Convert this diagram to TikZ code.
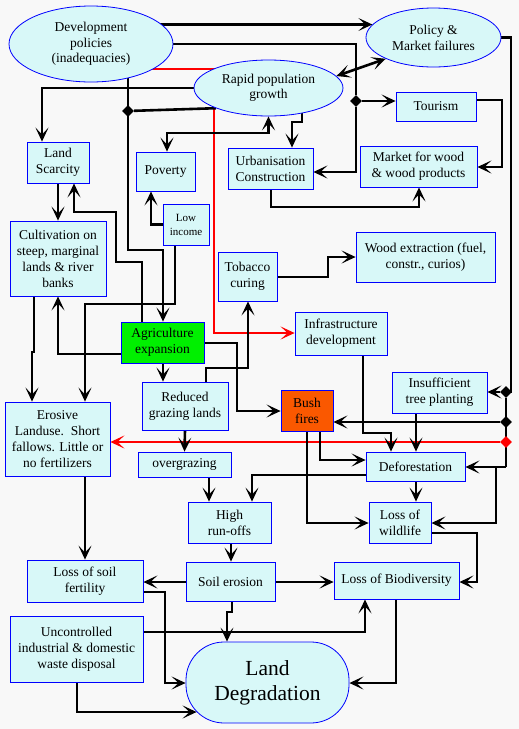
\documentclass[tikz,border=0pt]{standalone}
\usepackage{fontspec}
\setmainfont{Liberation Serif}
\usetikzlibrary{shapes.geometric,arrows.meta,calc}
\pgfdeclarelayer{bg}
\pgfdeclarelayer{lines}
\pgfsetlayers{bg,lines,main}
\definecolor{boxfill}{RGB}{216,248,248}
\definecolor{pagebg}{RGB}{248,248,248}
\definecolor{bord}{RGB}{0,0,255}
\definecolor{agrifill}{RGB}{0,240,0}
\definecolor{firefill}{RGB}{250,88,0}
\definecolor{redline}{RGB}{255,0,0}
\begin{document}
\begin{tikzpicture}[x=1pt,y=-1pt,
  box/.style={draw=bord,fill=boxfill,line width=0.8pt,inner sep=0pt,align=center,font=\fontsize{13.5}{16}\selectfont},
  oval/.style={box,ellipse},
  ln/.style={line width=2.6pt},
  arr/.style={ln,-{Stealth[length=14pt,width=13pt,inset=7pt]}},
  both/.style={ln,{Stealth[length=14pt,width=13pt,inset=7pt]}-{Stealth[length=14pt,width=13pt,inset=7pt]}},
  redarr/.style={arr,draw=redline},
  jdot/.style={diamond,aspect=1,fill=black,minimum size=12pt,inner sep=0pt},
  jreddot/.style={jdot,fill=redline}]
\begin{pgfonlayer}{bg}
\fill[pagebg] (0,0) rectangle (519,729);
\end{pgfonlayer}
\useasboundingbox (0,0) rectangle (519,729);

% nodes
\node[oval,minimum width=164pt,minimum height=76pt,font=\fontsize{13.5}{15.5}\selectfont] (dev) at (91,44) {Development\\policies\\(inadequacies)};
\node[oval,minimum width=135pt,minimum height=59pt] (policy) at (433.5,37.5) {Policy \&\\Market failures};
\node[oval,minimum width=149pt,minimum height=56pt,font=\fontsize{13.5}{15}\selectfont] (rapid) at (268.5,88) {Rapid population\\growth};
\node[box,minimum width=80pt,minimum height=29pt] (tourism) at (436,106.5) {Tourism};
\node[box,minimum width=117pt,minimum height=41pt] (market) at (418.5,166.5) {Market for wood\\\& wood products};
\node[box,minimum width=62pt,minimum height=41pt] (landsc) at (58,162.5) {Land\\Scarcity};
\node[box,minimum width=59pt,minimum height=39pt] (poverty) at (165.5,171.5) {Poverty};
\node[box,minimum width=85pt,minimum height=41pt] (urban) at (270.5,168.5) {Urbanisation\\Construction};
\node[box,minimum width=46pt,minimum height=41pt,font=\fontsize{11}{14}\selectfont] (lowinc) at (186,224.5) {Low\\income};
\node[box,minimum width=96pt,minimum height=75pt] (cult) at (58,258.5) {Cultivation on\\steep, marginal\\lands \& river\\banks};
\node[box,minimum width=59pt,minimum height=49pt] (tobacco) at (247.5,276.5) {Tobacco\\curing};
\node[box,minimum width=139pt,minimum height=50pt] (wood) at (425.5,257) {Wood extraction (fuel,\\constr., curios)};
\node[box,minimum width=92pt,minimum height=43pt] (infra) at (341,333.5) {Infrastructure\\development};
\node[box,fill=agrifill,minimum width=83pt,minimum height=41pt] (agri) at (162.5,342.5) {Agriculture\\expansion};
\node[box,minimum width=86pt,minimum height=48pt] (reduced) at (185,406) {Reduced\\grazing lands};
\node[box,fill=firefill,minimum width=52pt,minimum height=41pt] (bush) at (307,410.5) {Bush\\fires};
\node[box,minimum width=95pt,minimum height=41pt] (insuff) at (439.5,392.5) {Insufficient\\tree planting};
\node[box,minimum width=105pt,minimum height=74pt] (erosive) at (57.5,439) {Erosive\\Landuse.\ \ Short\\fallows. Little or\\no fertilizers};
\node[box,minimum width=93pt,minimum height=25pt] (overgr) at (184.5,464.5) {overgrazing};
\node[box,minimum width=99pt,minimum height=29pt] (defor) at (415.5,466.5) {Deforestation};
\node[box,minimum width=83pt,minimum height=41pt] (runoff) at (229.5,522.5) {High\\run-offs};
\node[box,minimum width=62pt,minimum height=41pt] (wildlife) at (400,522.5) {Loss of\\wildlife};
\node[box,minimum width=116pt,minimum height=42pt] (fertil) at (85,581) {Loss of soil\\fertility};
\node[box,minimum width=89pt,minimum height=39pt] (soil) at (230.5,581.5) {Soil erosion};
\node[box,minimum width=125pt,minimum height=37pt] (biodiv) at (396.5,580.5) {Loss of Biodiversity};
\node[box,minimum width=133pt,minimum height=66pt] (uncont) at (76.5,649) {Uncontrolled\\industrial \& domestic\\waste disposal};
\node[box,rounded corners=38pt,minimum width=163pt,minimum height=81pt,font=\fontsize{21.5}{25}\selectfont] (landdeg) at (267.5,682.5) {Land\\Degradation};

% junction dots
\node[jdot] (j1) at (128,111) {};
\node[jdot] (d1) at (356,101) {};
\node[jdot] (d2) at (506,392) {};
\node[jdot] (d3) at (506,422) {};
\node[jreddot] (d4) at (506,442) {};

\begin{pgfonlayer}{lines}
% development policies
\draw[arr] (dev |- policy.168.5) -- (policy.168.5);
\draw[ln] (dev.east) -| (d1);
\draw[arr] (d1) -- (tourism.west |- d1);
\draw[arr] (d1) |- (urban.east |- 0,172);
\draw[arr] (dev.center -| 128,0) -- (128,250) -| (agri.north -| 163,0);
\draw[redarr] (dev |- 0,69) -| (214,333) -- (infra.west |- 0,333);
% rapid population growth
\draw[both] (rapid.10.6) -- (policy.204);
\draw[arr] (rapid.west) -| (landsc.north -| 42,0);
\draw[ln] (rapid.201.2) -- (j1);
\draw[both] (rapid.south) |- (167,133) -- (poverty.north -| 167,0);
\draw[arr] (rapid.center -| 302,0) -- (302,122) -- (292,122) -- (urban.north -| 292,0);
% policy & market failures right trunk
\draw[ln] (policy.east) -| (511,392) -- (d2);
\draw[arr] (d2) -- (insuff.east |- d2);
\draw[ln] (d2) -- (506,467);
\draw[arr] (d3) -- (bush.east |- d3);
\draw[redarr] (d4) -- (erosive.east |- d4);
\draw[arr] (506,467) -- (defor.east |- 0,467);
\draw[arr] (496,467) |- (wildlife.east |- 0,523);
% upper middle
\draw[arr] (tourism.east |- 0,100) -- (502,100) -- (502,167) -- (market.east |- 0,167);
\draw[arr] (urban.south -| 271,0) -- (271,207) -| (market.south -| 419,0);
\draw[arr] (landsc.south) -- (cult.north);
\draw[arr] (agri.north -| 142,0) -- (142,262) -- (116,262) -- (116,212) -- (74,212) -- (landsc.south -| 74,0);
\draw[arr] (lowinc.west) -| (poverty.south -| 151,0);
\draw[arr] (lowinc.south -| 175,0) -- (175,304) -- (85,304) -- (erosive.north -| 85,0);
\draw[arr] (cult.south -| 34,0) -- (34,352) -- (32,352) -- (erosive.north -| 32,0);
\draw[arr] (agri.west |- 0,354) -| (cult.south -| 58,0);
\draw[arr] (agri.south -| 163,0) -- (reduced.north -| 163,0);
\draw[arr] (reduced.north -| 206,0) -- (206,368) -- (248,368) -- (tobacco.south -| 248,0);
\draw[arr] (agri.east |- 0,343) -- (237,343) |- (bush.west |- 0,411);
\draw[arr] (tobacco.east |- 0,277) -- (328,277) |- (wood.west |- 0,257);
% lower middle
\draw[arr] (infra.south -| 363,0) -- (363,433) -| (defor.north -| 391,0);
\draw[arr] (insuff.south -| 416,0) -- (defor.north -| 416,0);
\draw[arr] (bush.south -| 320,0) |- (defor.west |- 0,460);
\draw[arr] (bush.south -| 307,0) |- (wildlife.west |- 0,523);
\draw[arr] (defor.south -| 416,0) -- (wildlife.north -| 416,0);
\draw[arr] (defor.west |- 0,475) -| (runoff.north -| 252,0);
\draw[arr] (overgr.south -| 209,0) -- (runoff.north -| 209,0);
\draw[arr] (reduced.south) -- (overgr.north);
\draw[arr] (runoff.south -| 231,0) -- (soil.north -| 231,0);
\draw[arr] (erosive.south -| 85,0) -- (fertil.north -| 85,0);
% bottom
\draw[arr] (soil.west |- 0,582) -- (fertil.east |- 0,582);
\draw[arr] (soil.east |- 0,582) -- (biodiv.west |- 0,582);
\draw[arr] (soil.south -| 232,0) -- (232,612) -- (227,612) -- (landdeg.north -| 227,0);
\draw[arr] (fertil.east |- 0,592) -- (165,592) |- (landdeg.west |- 0,683);
\draw[arr] (uncont.south -| 77,0) |- ($(landdeg.west |- 0,712)+(11,0)$);
\draw[arr] (uncont.east |- 0,632) -| (biodiv.south -| 365,0);
\draw[arr] (biodiv.south -| 396,0) |- (landdeg.east |- 0,683);
\draw[arr] (wildlife.east |- 0,533) -- (477,533) |- (biodiv.east |- 0,582);
\end{pgfonlayer}
\end{tikzpicture}
\end{document}
